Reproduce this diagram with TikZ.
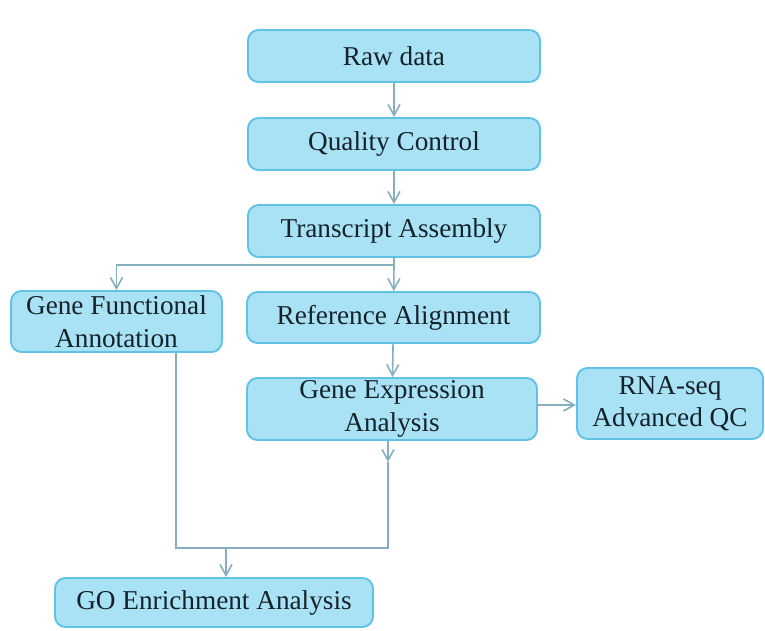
\documentclass[tikz,border=0pt]{standalone}
\usepackage{fontspec}
\setmainfont{Liberation Serif}
\usepackage{xcolor}
\definecolor{BoxFill}{HTML}{A9E2F5}
\definecolor{BoxBorder}{HTML}{62C2E4}
\definecolor{ArrowLine}{HTML}{86AEBC}
\definecolor{InkDark}{HTML}{14222A}
\usetikzlibrary{arrows.meta, positioning, calc}

\begin{document}
\begin{tikzpicture}[>={Straight Barb[length=2.2mm, width=2.4mm]},
  stage/.style={rectangle, rounded corners=6pt, draw=BoxBorder, line width=1.1pt, fill=BoxFill,
                align=center, text=InkDark, inner sep=0pt,
                font=\fontsize{15.5}{18.5}\selectfont},
  arr/.style={->, line width=0.9pt, color=ArrowLine},
  wire/.style={line width=0.9pt, color=ArrowLine}
]
\useasboundingbox (0,0) rectangle (15.3,12.6);

%% ---- Main column ----
\node[stage, minimum width=5.84cm, minimum height=1.04cm] (raw)  at (7.88, 11.48) {Raw data};
\node[stage, minimum width=5.84cm, minimum height=1.04cm] (qc)   at (7.88,  9.72) {Quality Control};
\node[stage, minimum width=5.84cm, minimum height=1.04cm] (asm)  at (7.88,  7.98) {Transcript Assembly};
\node[stage, minimum width=5.86cm, minimum height=1.02cm] (ref)  at (7.87,  6.25) {Reference Alignment};
\node[stage, minimum width=5.80cm, minimum height=1.24cm] (expr) at (7.84,  4.42) {Gene Expression\\Analysis};

%% ---- Side boxes ----
\node[stage, minimum width=4.22cm, minimum height=1.22cm] (annot) at ( 2.33, 6.17) {Gene Functional\\Annotation};
\node[stage, minimum width=3.72cm, minimum height=1.42cm] (advqc) at (13.40, 4.53) {RNA-seq\\Advanced QC};
\node[stage, minimum width=6.36cm, minimum height=0.98cm] (goenr) at ( 4.28, 0.55) {GO Enrichment Analysis};

%% ---- Junction points ----
\coordinate (split) at (7.84, 7.30);
\coordinate (midexpr) at (7.76, 3.36);
\coordinate (merge) at (4.52, 1.64);

%% ---- Main path arrows ----
\draw[arr] (raw) -- (qc);
\draw[arr] (qc)  -- (asm);
\draw[arr] (split -| asm.south) -- (ref);
\draw[wire] (asm.south) -- (split -| asm.south);
\draw[arr] (split -| asm.south) -| (annot.north);
\draw[arr] (ref) -- (expr);
\draw[arr] (expr.east |- 0,4.50) -- (advqc.west |- 0,4.50);

%% ---- Merge into GO enrichment ----
\draw[arr] (expr.south -| midexpr) -- (midexpr);
\draw[wire] (midexpr) |- (merge);
\draw[wire] (annot.south -| 3.52,0) |- (merge);
\draw[arr] (merge) -- (merge |- goenr.north);

\end{tikzpicture}
\end{document}
